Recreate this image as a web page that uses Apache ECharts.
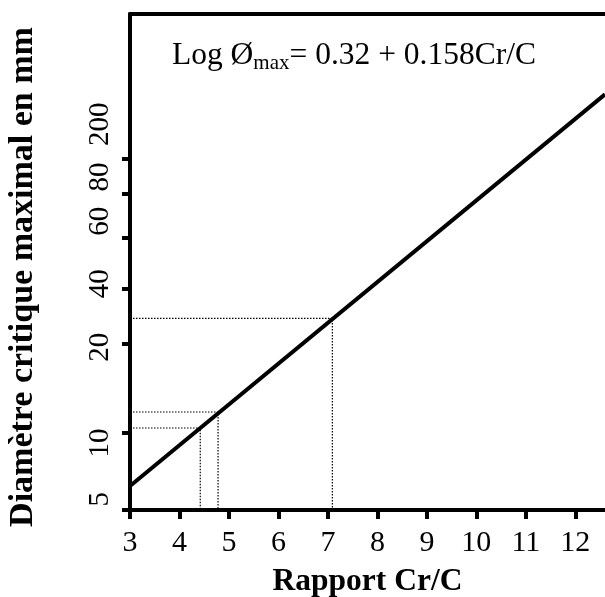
<!DOCTYPE html>
<html>
<head>
<meta charset="utf-8">
<script src="https://cdn.jsdelivr.net/npm/echarts@6/dist/echarts.min.js"></script>
<style>
  html, body { margin: 0; padding: 0; background: #fff; }
  #chart { width: 605px; height: 597px; }
</style>
</head>
<body>
<div id="chart"></div>
<script>
// Critical diameter line (log Ø = 0.32 + 0.158·Cr/C), taken at its two ends
const ratioEnds = [3, 12.6];
const diameterEnds = [6.2, 205];

// Points with dotted guides (Cr/C, diameter in mm)
const guideRatios = [4.42, 4.78, 7.09];
const guideDiameters = [10.4, 12.0, 27.7];

// Axis ticks and labels
const xTicks = [3, 4, 5, 6, 7, 8, 9, 10, 11, 12];
const yTickMarks = [5, 10, 22, 36, 57, 84, 115];
const yLabelTexts = ['5', '10', '20', '40', '60', '80', '200'];
const yLabelSpots = [5.5, 9.1, 21.4, 37.7, 66, 98, 157];

const X_MIN = 3, X_MAX = 12.6;
const Y_MIN = 5, Y_MAX = 420;

const FONT = '"Liberation Serif", "Times New Roman", serif';
const INK = '#000';
const AXIS_W = 4;

const chart = echarts.init(document.getElementById('chart'), null, { renderer: 'canvas' });

const series = [{
  type: 'line',
  xAxisIndex: 0,
  yAxisIndex: 0,
  data: ratioEnds.map((r, i) => [r, diameterEnds[i]]),
  symbol: 'none',
  lineStyle: { color: INK, width: 4 },
  z: 5
}];

guideRatios.forEach((r, i) => {
  const d = guideDiameters[i];
  series.push({
    type: 'line',
    xAxisIndex: 0,
    yAxisIndex: 0,
    data: [[X_MIN, d], [r, d], [r, Y_MIN]],
    symbol: 'none',
    lineStyle: { color: INK, width: 1.2, type: [1.5, 1.5] },
    z: 3
  });
});

const log10 = Math.log10;

chart.setOption({
  animation: false,
  backgroundColor: '#fff',
  grid: { left: 130, right: 0, top: 14, bottom: 87, containLabel: false, outerBoundsMode: 'none' },
  xAxis: [{
    type: 'value',
    position: 'bottom',
    min: X_MIN, max: X_MAX,
    axisLine: { show: true, lineStyle: { color: INK, width: AXIS_W } },
    axisTick: { show: true, customValues: xTicks, length: 9, lineStyle: { color: INK, width: AXIS_W } },
    axisLabel: { show: true, customValues: xTicks, color: INK, fontFamily: FONT, fontSize: 30, margin: 18 },
    splitLine: { show: false },
    name: 'Rapport Cr/C',
    nameLocation: 'middle',
    nameGap: 56,
    nameTextStyle: { color: INK, fontFamily: FONT, fontWeight: 'bold', fontSize: 31.5 }
  }, {
    type: 'value',
    position: 'top',
    min: X_MIN, max: X_MAX,
    axisLine: { show: true, lineStyle: { color: INK, width: AXIS_W } },
    axisTick: { show: false },
    axisLabel: { show: false },
    splitLine: { show: false }
  }],
  yAxis: [{
    // data scale: logarithmic diameters
    type: 'log',
    logBase: 10,
    position: 'right',
    min: Y_MIN, max: Y_MAX,
    axisLine: { show: false },
    axisTick: { show: false },
    axisLabel: { show: false },
    splitLine: { show: false }
  }, {
    // same span in log10 units, carrying the drawn ticks and labels
    type: 'value',
    position: 'left',
    min: log10(Y_MIN), max: log10(Y_MAX),
    axisLine: { show: true, lineStyle: { color: INK, width: AXIS_W } },
    axisTick: { show: true, customValues: yTickMarks.map(log10), length: 8, lineStyle: { color: INK, width: AXIS_W } },
    axisLabel: {
      show: true,
      customValues: yLabelSpots.map(log10),
      rotate: 90,
      color: INK, fontFamily: FONT, fontSize: 29, margin: 15,
      formatter: function (v) {
        let best = 0, bestD = Infinity;
        yLabelSpots.forEach((s, i) => {
          const dd = Math.abs(log10(s) - v);
          if (dd < bestD) { bestD = dd; best = i; }
        });
        return yLabelTexts[best];
      }
    },
    splitLine: { show: false },
    name: 'Diamètre critique maximal en mm',
    nameLocation: 'middle',
    nameGap: 90,
    nameRotate: 90,
    nameTextStyle: { color: INK, fontFamily: FONT, fontWeight: 'bold', fontSize: 34, padding: [0, 30, 0, 0] }
  }],
  graphic: [{
    type: 'text',
    left: 172,
    top: 40,
    style: {
      text: '{a|Log Ø}{b|max}{a|= 0.32 + 0.158Cr/C}',
      rich: {
        a: { fontFamily: FONT, fontSize: 31.5, fill: INK, verticalAlign: 'bottom', padding: [0, 0, 2, 0] },
        b: { fontFamily: FONT, fontSize: 21, fill: INK, verticalAlign: 'bottom' }
      }
    }
  }],
  series: series
});
</script>
</body>
</html>
